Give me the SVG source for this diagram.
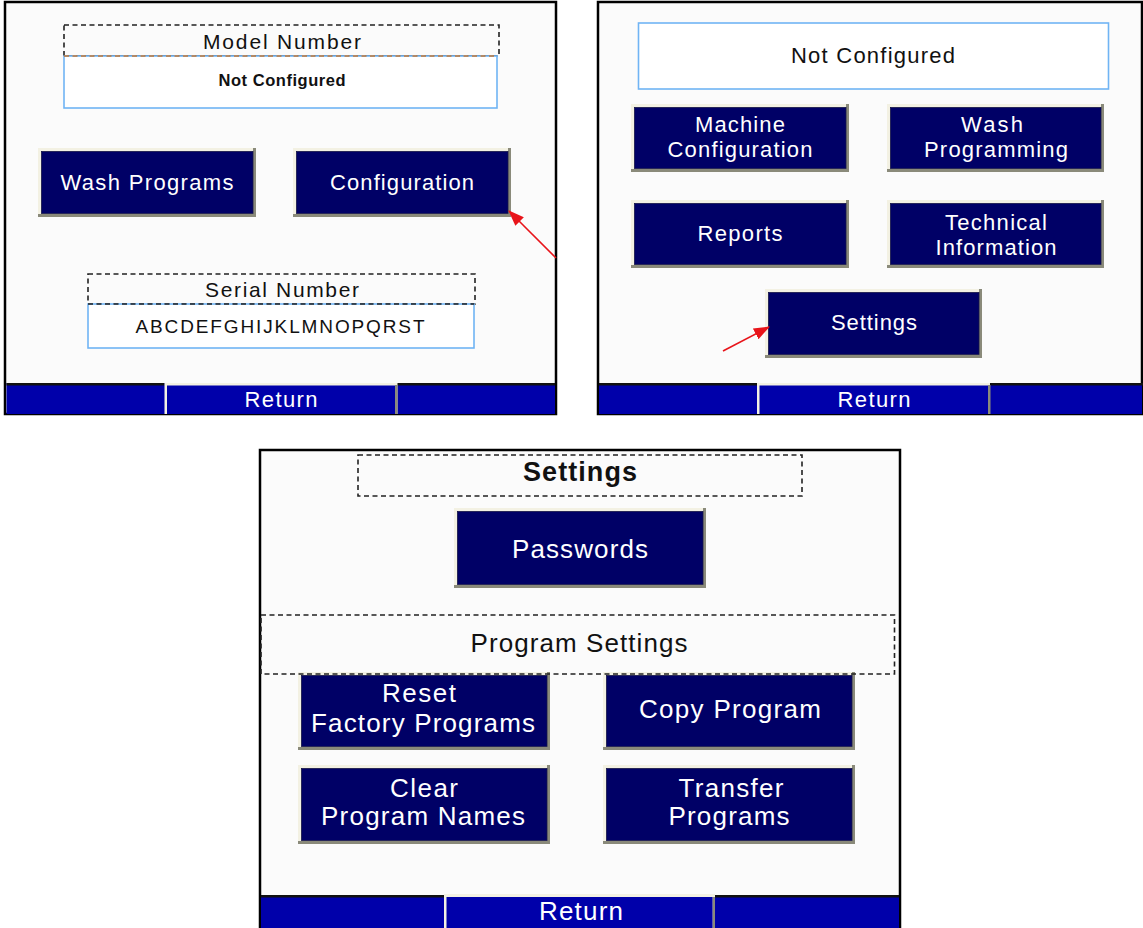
<svg xmlns="http://www.w3.org/2000/svg" width="1143" height="928" viewBox="0 0 1143 928">
<style>
.panel{fill:#fbfbfb;stroke:#000;stroke-width:2.5}
.dash{fill:none;stroke:#222;stroke-width:1.6;stroke-dasharray:5 3.5}
.field{fill:#fff;stroke:#70b4f4;stroke-width:1.6}
.sh{fill:#8a8a7a}
.hl{fill:#f3f1e3}
.btn{fill:#000066;stroke:#141448;stroke-width:0.8}
.bar{fill:#0000aa}
.t{font-family:"Liberation Sans","Arial",sans-serif;text-anchor:middle}
.w{fill:#fff}
.k{fill:#111}
.b{font-weight:bold}
.s20{font-size:22px}
.s24{font-size:26px}
.arrow{stroke:#e8141a;stroke-width:1.6;fill:none}
</style>
<defs>
<marker id="ah" markerUnits="userSpaceOnUse" markerWidth="16" markerHeight="12" refX="15" refY="6" orient="auto">
<path d="M0,0 L16,6 L0,12 Z" fill="#e8141a"/>
</marker>
</defs>
<rect width="1143" height="928" fill="#fff"/>

<g id="panel-main">
<rect class="panel" x="5" y="2" width="551" height="412"/>
<g id="model-number">
<rect class="dash" x="64" y="25" width="435" height="31"/>
<text class="t k" style="font-size:21px" x="282" y="49" textLength="158">Model Number</text>
</g>
<g id="model-value">
<rect class="field" x="64" y="56" width="433" height="52"/>
<line x1="64" y1="56" x2="497" y2="56" stroke="#c07838" stroke-width="1.6" stroke-dasharray="5 3.5"/>
<text class="t k b" style="font-size:16.5px" x="282" y="86" textLength="127">Not Configured</text>
</g>
<g id="btn-wash-programs">
<rect class="sh" x="38" y="148" width="218" height="69"/>
<rect class="hl" x="38" y="148" width="215" height="66"/>
<rect class="btn" x="41.5" y="151.5" width="211.5" height="62"/>
<text class="t w s20" x="147" y="190" textLength="173">Wash Programs</text>
</g>
<g id="btn-configuration">
<rect class="sh" x="293" y="148" width="218" height="69"/>
<rect class="hl" x="293" y="148" width="215" height="66"/>
<rect class="btn" x="296.5" y="151.5" width="211.5" height="62"/>
<text class="t w s20" x="402" y="190" textLength="144">Configuration</text>
</g>
<g id="serial-number">
<rect class="dash" x="88" y="274" width="387" height="30"/>
<text class="t k" style="font-size:21px" x="282" y="297" textLength="154">Serial Number</text>
</g>
<g id="serial-value">
<rect class="field" x="88" y="304" width="386" height="44"/>
<line x1="88" y1="304" x2="474" y2="304" stroke="#222" stroke-width="1.6" stroke-dasharray="5 3.5"/>
<text class="t k" style="font-size:19px" x="280" y="333" textLength="289">ABCDEFGHIJKLMNOPQRST</text>
</g>
<g id="return-bar-1">
<rect class="bar" x="6.5" y="383" width="548.5" height="31"/>
<rect x="6.5" y="383" width="158" height="2.5" fill="#111"/>
<rect x="397" y="383" width="158" height="2.5" fill="#111"/>
<rect class="hl" x="164.5" y="383" width="233" height="31"/>
<rect x="395" y="385" width="2.5" height="29" fill="#8a8a7a"/>
<rect class="bar" x="167" y="385.5" width="228" height="28.5"/>
<text class="t w" style="font-size:22px" x="281" y="407" textLength="73">Return</text>
</g>
</g>

<g id="panel-config">
<rect class="panel" x="598" y="2" width="544" height="412"/>
<g id="status-field">
<rect class="field" x="638.5" y="23" width="470" height="66"/>
<text class="t k" style="font-size:22px" x="873" y="63" textLength="164">Not Configured</text>
</g>
<g id="btn-machine-configuration">
<rect class="sh" x="631" y="104" width="218" height="68"/>
<rect class="hl" x="631" y="104" width="215" height="65"/>
<rect class="btn" x="634.5" y="107.5" width="211.5" height="61"/>
<text class="t w s20" x="740" y="132" textLength="90">Machine</text>
<text class="t w s20" x="740" y="157" textLength="145">Configuration</text>
</g>
<g id="btn-wash-programming">
<rect class="sh" x="887" y="104" width="217" height="68"/>
<rect class="hl" x="887" y="104" width="214" height="65"/>
<rect class="btn" x="890.5" y="107.5" width="210.5" height="61"/>
<text class="t w s20" x="992" y="132" textLength="62">Wash</text>
<text class="t w s20" x="996" y="157" textLength="144">Programming</text>
</g>
<g id="btn-reports">
<rect class="sh" x="631" y="200" width="218" height="68"/>
<rect class="hl" x="631" y="200" width="215" height="65"/>
<rect class="btn" x="634.5" y="203.5" width="211.5" height="61"/>
<text class="t w s20" x="740" y="241" textLength="85">Reports</text>
</g>
<g id="btn-technical-information">
<rect class="sh" x="887" y="200" width="217" height="68"/>
<rect class="hl" x="887" y="200" width="214" height="65"/>
<rect class="btn" x="890.5" y="203.5" width="210.5" height="61"/>
<text class="t w s20" x="996" y="230" textLength="102">Technical</text>
<text class="t w s20" x="996" y="255" textLength="121">Information</text>
</g>
<g id="btn-settings">
<rect class="sh" x="765" y="289" width="217" height="69"/>
<rect class="hl" x="765" y="289" width="214" height="66"/>
<rect class="btn" x="768.5" y="292.5" width="210.5" height="62"/>
<text class="t w s20" x="874" y="330" textLength="86">Settings</text>
</g>
<g id="return-bar-2">
<rect class="bar" x="599" y="383" width="543" height="31"/>
<rect x="599" y="383" width="158" height="2.5" fill="#111"/>
<rect x="990" y="383" width="153" height="2.5" fill="#111"/>
<rect class="hl" x="757" y="383" width="233" height="31"/>
<rect x="988" y="385" width="2.5" height="29" fill="#8a8a7a"/>
<rect class="bar" x="759.5" y="385.5" width="228.5" height="28.5"/>
<text class="t w" style="font-size:22px" x="874" y="407" textLength="73">Return</text>
</g>
</g>

<g id="panel-settings">
<rect class="panel" x="260" y="450" width="640" height="480"/>
<g id="settings-title">
<rect class="dash" x="358" y="455" width="444" height="41"/>
<text class="t k b" style="font-size:27px" x="580" y="481" textLength="114">Settings</text>
</g>
<g id="btn-passwords">
<rect class="sh" x="454" y="508" width="252" height="80"/>
<rect class="hl" x="454" y="508" width="249" height="77"/>
<rect class="btn" x="457.5" y="511.5" width="245.5" height="73"/>
<text class="t w s24" x="580" y="558" textLength="136">Passwords</text>
</g>
<g id="btn-reset-factory-programs">
<rect class="sh" x="298" y="672" width="252" height="78"/>
<rect class="hl" x="298" y="672" width="249" height="75"/>
<rect class="btn" x="301.5" y="675.5" width="245.5" height="71"/>
<text class="t w s24" x="419" y="702" textLength="74">Reset</text>
<text class="t w s24" x="423" y="732" textLength="224">Factory Programs</text>
</g>
<g id="btn-copy-program">
<rect class="sh" x="603" y="672" width="252" height="78"/>
<rect class="hl" x="603" y="672" width="249" height="75"/>
<rect class="btn" x="606.5" y="675.5" width="245.5" height="71"/>
<text class="t w s24" x="730" y="718" textLength="182">Copy Program</text>
</g>
<g id="program-settings">
<rect class="dash" x="261" y="615" width="633.5" height="59"/>
<text class="t k s24" x="579" y="652" textLength="217">Program Settings</text>
</g>
<g id="btn-clear-program-names">
<rect class="sh" x="298" y="765" width="252" height="79"/>
<rect class="hl" x="298" y="765" width="249" height="76"/>
<rect class="btn" x="301.5" y="768.5" width="245.5" height="72"/>
<text class="t w s24" x="424" y="797" textLength="68">Clear</text>
<text class="t w s24" x="423" y="825" textLength="204">Program Names</text>
</g>
<g id="btn-transfer-programs">
<rect class="sh" x="603" y="765" width="252" height="79"/>
<rect class="hl" x="603" y="765" width="249" height="76"/>
<rect class="btn" x="606.5" y="768.5" width="245.5" height="72"/>
<text class="t w s24" x="731" y="797" textLength="105">Transfer</text>
<text class="t w s24" x="729" y="825" textLength="121">Programs</text>
</g>
<g id="return-bar-3">
<rect class="bar" x="261" y="895" width="638" height="33"/>
<rect x="261" y="895" width="183" height="2.5" fill="#111"/>
<rect x="715" y="895" width="184" height="2.5" fill="#111"/>
<rect class="hl" x="444" y="894" width="271" height="34"/>
<rect x="712.5" y="897" width="2.5" height="31" fill="#8a8a7a"/>
<rect class="bar" x="446.5" y="897" width="266" height="31"/>
<text class="t w" style="font-size:26px" x="581" y="920" textLength="84">Return</text>
</g>
</g>

<g id="connectors">
<line class="arrow" x1="556" y1="258" x2="509" y2="211" marker-end="url(#ah)"/>
<line class="arrow" x1="723" y1="351" x2="769" y2="327" marker-end="url(#ah)"/>
</g>
</svg>
